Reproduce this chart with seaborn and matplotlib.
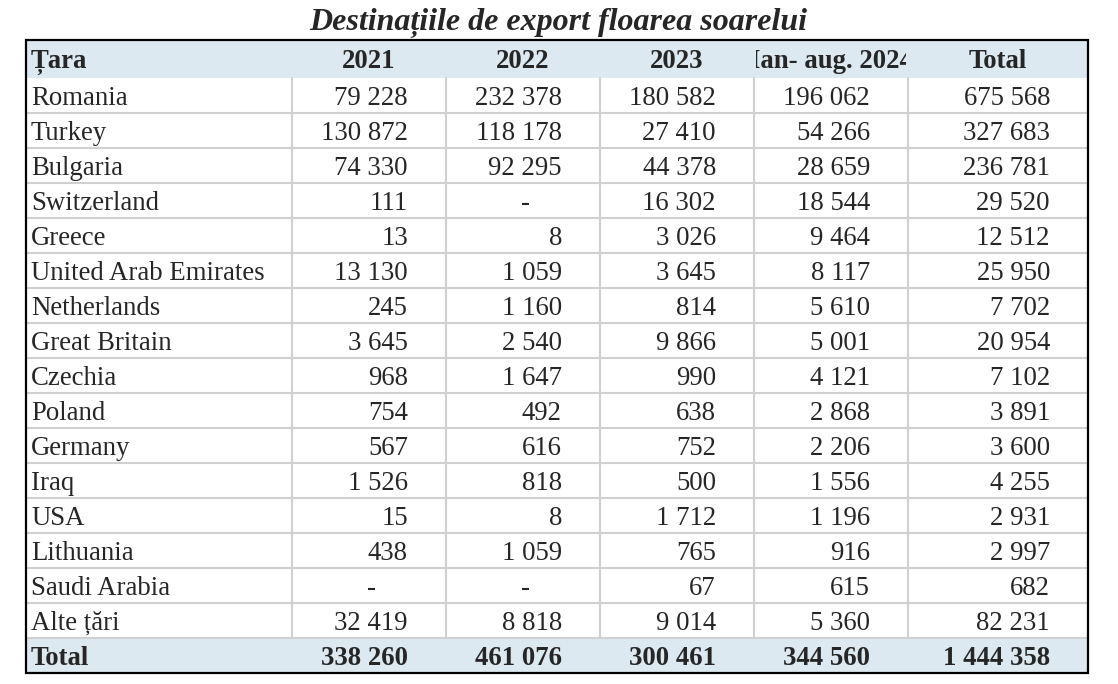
import pandas as pd
import seaborn as sns
import matplotlib.pyplot as plt
from matplotlib.patches import Rectangle
from matplotlib.transforms import Bbox, TransformedBbox

title = "Destinațiile de export floarea soarelui"
header = ["Țara", "2021", "2022", "2023", "Ian- aug. 2024", "Total"]
countries = ["Romania", "Turkey", "Bulgaria", "Switzerland", "Greece",
             "United Arab Emirates", "Netherlands", "Great Britain", "Czechia",
             "Poland", "Germany", "Iraq", "USA", "Lithuania", "Saudi Arabia",
             "Alte țări"]
v2021 = [79228, 130872, 74330, 111, 13, 13130, 245, 3645, 968, 754, 567,
         1526, 15, 438, None, 32419]
v2022 = [232378, 118178, 92295, None, 8, 1059, 1160, 2540, 1647, 492, 616,
         818, 8, 1059, None, 8818]
v2023 = [180582, 27410, 44378, 16302, 3026, 3645, 814, 9866, 990, 638, 752,
         500, 1712, 765, 67, 9014]
v2024 = [196062, 54266, 28659, 18544, 9464, 8117, 5610, 5001, 4121, 2868,
         2206, 1556, 1196, 916, 615, 5360]
total = [675568, 327683, 236781, 29520, 12512, 25950, 7702, 20954, 7102,
         3891, 3600, 4255, 2931, 2997, 682, 82231]
col_total = [338260, 461076, 300461, 344560, 1444358]

df = pd.DataFrame({"2021": v2021, "2022": v2022, "2023": v2023,
                   "2024": v2024, "Total": total}, index=countries)

sns.set_theme(style="white")
plt.rcParams['font.family'] = ['Liberation Serif', 'DejaVu Serif']


def fmt(v):
    if v is None or pd.isna(v):
        return None
    return f"{int(v):,}".replace(",", " ")


# layout (pixel units)
edges = [26, 292, 446, 600, 754, 908, 1088]
top, head_h, row_h = 40, 38, 35
n = len(df)
bottom = top + head_h + (n + 1) * row_h
blue = "#dde9f0"
grey = "#d0d0d0"
fs = 19.3
pad = 38
dy = 3

fig = plt.figure(figsize=(11.18, 6.84), dpi=100)
ax = fig.add_axes([0, 0, 1, 1])
ax.set_xlim(0, 1118)
ax.set_ylim(684, 0)
ax.axis("off")

ax.text(558, 23, title, ha="center", va="center", fontsize=23,
        fontweight="bold", fontstyle="italic")

# fills
ax.add_patch(Rectangle((edges[0], top), edges[-1] - edges[0], head_h,
                       color=blue, lw=0, zorder=0))
ax.add_patch(Rectangle((edges[0], bottom - row_h), edges[-1] - edges[0], row_h,
                       color=blue, lw=0, zorder=0))

# grid lines
for i in range(n):
    y = top + head_h + (i + 1) * row_h
    ax.plot([edges[0], edges[-1]], [y, y], color=grey, lw=1.5, zorder=1)
for x in edges[1:-1]:
    ax.plot([x, x], [top + head_h, bottom - row_h], color=grey, lw=1.5, zorder=1)
ax.add_patch(Rectangle((edges[0], top), edges[-1] - edges[0], bottom - top,
                       fill=False, ec="black", lw=1.6, zorder=3))

# header
yh = top + head_h / 2 + dy
ax.text(edges[0] + 5, yh, header[0], ha="left", va="center", fontsize=fs,
        fontweight="bold")
for j, lab in enumerate(header[1:], start=1):
    xc = (edges[j] + edges[j + 1]) / 2
    t = ax.text(xc, yh, lab, ha="center", va="center", fontsize=fs,
                fontweight="bold", clip_on=True)
    box = Bbox.from_extents(edges[j] + 2, top, edges[j + 1] - 2, top + head_h)
    t.set_clip_box(TransformedBbox(box, ax.transData))

# body
for i, (name, row) in enumerate(df.iterrows()):
    y = top + head_h + i * row_h + row_h / 2 + dy
    ax.text(edges[0] + 5, y, name, ha="left", va="center", fontsize=fs)
    for j, v in enumerate(row.values, start=1):
        s = fmt(v)
        xr = edges[j + 1] - pad
        if s is None:
            ax.text(xr - 36, y, "-", ha="center", va="center", fontsize=fs)
        else:
            ax.text(xr, y, s, ha="right", va="center", fontsize=fs)

# total row
y = bottom - row_h / 2 + dy
ax.text(edges[0] + 5, y, "Total", ha="left", va="center", fontsize=fs,
        fontweight="bold")
for j, v in enumerate(col_total, start=1):
    ax.text(edges[j + 1] - pad, y, fmt(v), ha="right", va="center",
            fontsize=fs, fontweight="bold")

fig.savefig("out.png", dpi=100)
